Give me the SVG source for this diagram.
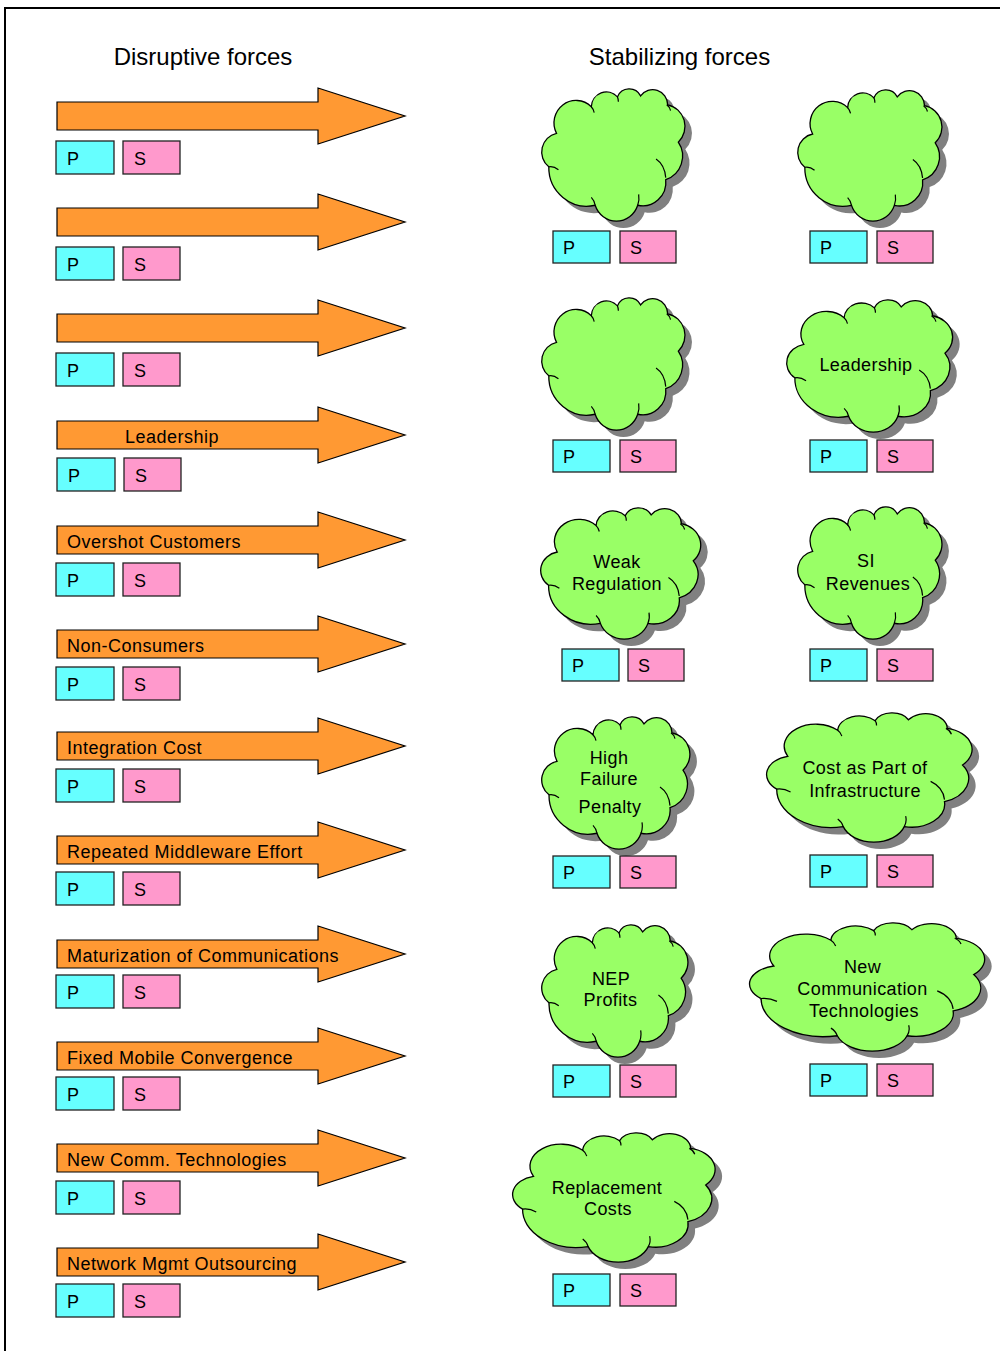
<svg xmlns="http://www.w3.org/2000/svg" xmlns:xlink="http://www.w3.org/1999/xlink" width="1000" height="1351" viewBox="0 0 1000 1351">
  <style>
    .frame { fill: none; stroke: #000; stroke-width: 2; }
    .arrow { fill: #FF9933; stroke: #000; stroke-width: 1.2; stroke-linejoin: miter; }
    .p { fill: #66FFFF; stroke: #222; stroke-width: 1.3; }
    .s { fill: #FF99CC; stroke: #222; stroke-width: 1.3; }
    .cloud { fill: #99FF66; stroke: #000; stroke-width: 1.3; }
    .shadow { fill: #808080; stroke: none; }
    .hint { fill: none; stroke: #000; stroke-width: 1.2; }
    text { font-family: "Liberation Sans", Arial, sans-serif; fill: #000; }
    .title { font-size: 24px; text-anchor: middle; }
    .lbl { font-size: 18px; letter-spacing: 0.5px; }
    .ctr { font-size: 18px; text-anchor: middle; letter-spacing: 0.4px; }
  </style>
  <defs>
    <!-- block arrow, tip at (405,0) -->
    <polygon id="arrow-shape" points="57,-14 318,-14 318,-28 405,0 318,28 318,14 57,14"/>
    <!-- cloud outline drawn in a 150 x 135 box -->
    <path id="cloud-shape" vector-effect="non-scaling-stroke"
          d="M7,79 A19.3,19.3 0 0 1 15,45 A22.8,22.8 0 0 1 51,18 A15.6,15.6 0 0 1 78,8 A13.3,13.3 0 0 1 102,7 A15.5,15.5 0 0 1 130,16 A22.3,22.3 0 0 1 141,54 A25,25 0 0 1 128,92 A24,24 0 0 1 99,118 A23.1,23.1 0 0 1 55,118 A39.5,39.5 0 0 1 7,79 Z"/>
    <!-- inner fold lines of the cloud -->
    <path id="cloud-hints" vector-effect="non-scaling-stroke"
          d="M118,71 Q127,77 128,90 M99,118 Q101,113 100,107 M55,118 Q54,113 51,110 M7,79 Q12,78 17,82 M51,18 Q53,20 54,24 M78,8 Q79,10 79,13 M129,16 Q132,18 133,22"/>
  </defs>

  <rect x="0" y="0" width="1000" height="1351" fill="#fff"/>
  <path class="frame" d="M5,1351 V8 H1000"/>

  <text class="title" x="203" y="65">Disruptive forces</text>
  <text class="title" x="679.5" y="65">Stabilizing forces</text>

  <!-- disruptive forces: arrows with P / S tags -->
  <g id="force-d1">
    <use xlink:href="#arrow-shape" class="arrow" transform="translate(0,116)"/>
    <rect class="p" x="56" y="141" width="58" height="33"/><text class="lbl" x="67" y="164.5">P</text>
    <rect class="s" x="123" y="141" width="57" height="33"/><text class="lbl" x="134" y="164.5">S</text>
  </g>
  <g id="force-d2">
    <use xlink:href="#arrow-shape" class="arrow" transform="translate(0,222)"/>
    <rect class="p" x="56" y="247" width="58" height="33"/><text class="lbl" x="67" y="270.5">P</text>
    <rect class="s" x="123" y="247" width="57" height="33"/><text class="lbl" x="134" y="270.5">S</text>
  </g>
  <g id="force-d3">
    <use xlink:href="#arrow-shape" class="arrow" transform="translate(0,328)"/>
    <rect class="p" x="56" y="353" width="58" height="33"/><text class="lbl" x="67" y="376.5">P</text>
    <rect class="s" x="123" y="353" width="57" height="33"/><text class="lbl" x="134" y="376.5">S</text>
  </g>
  <g id="force-leadership">
    <use xlink:href="#arrow-shape" class="arrow" transform="translate(0,435)"/>
    <text class="lbl" x="125" y="442.5">Leadership</text>
    <rect class="p" x="57" y="458" width="58" height="33"/><text class="lbl" x="68" y="481.5">P</text>
    <rect class="s" x="124" y="458" width="57" height="33"/><text class="lbl" x="135" y="481.5">S</text>
  </g>
  <g id="force-overshot-customers">
    <use xlink:href="#arrow-shape" class="arrow" transform="translate(0,540)"/>
    <text class="lbl" x="67" y="547.5">Overshot Customers</text>
    <rect class="p" x="56" y="563" width="58" height="33"/><text class="lbl" x="67" y="586.5">P</text>
    <rect class="s" x="123" y="563" width="57" height="33"/><text class="lbl" x="134" y="586.5">S</text>
  </g>
  <g id="force-non-consumers">
    <use xlink:href="#arrow-shape" class="arrow" transform="translate(0,644)"/>
    <text class="lbl" x="67" y="651.5">Non-Consumers</text>
    <rect class="p" x="56" y="667" width="58" height="33"/><text class="lbl" x="67" y="690.5">P</text>
    <rect class="s" x="123" y="667" width="57" height="33"/><text class="lbl" x="134" y="690.5">S</text>
  </g>
  <g id="force-integration-cost">
    <use xlink:href="#arrow-shape" class="arrow" transform="translate(0,746)"/>
    <text class="lbl" x="67" y="753.5">Integration Cost</text>
    <rect class="p" x="56" y="769" width="58" height="33"/><text class="lbl" x="67" y="792.5">P</text>
    <rect class="s" x="123" y="769" width="57" height="33"/><text class="lbl" x="134" y="792.5">S</text>
  </g>
  <g id="force-repeated-middleware">
    <use xlink:href="#arrow-shape" class="arrow" transform="translate(0,850)"/>
    <text class="lbl" x="67" y="857.5">Repeated Middleware Effort</text>
    <rect class="p" x="56" y="872" width="58" height="33"/><text class="lbl" x="67" y="895.5">P</text>
    <rect class="s" x="123" y="872" width="57" height="33"/><text class="lbl" x="134" y="895.5">S</text>
  </g>
  <g id="force-maturization">
    <use xlink:href="#arrow-shape" class="arrow" transform="translate(0,954)"/>
    <text class="lbl" x="67" y="961.5">Maturization of Communications</text>
    <rect class="p" x="56" y="975" width="58" height="33"/><text class="lbl" x="67" y="998.5">P</text>
    <rect class="s" x="123" y="975" width="57" height="33"/><text class="lbl" x="134" y="998.5">S</text>
  </g>
  <g id="force-fixed-mobile">
    <use xlink:href="#arrow-shape" class="arrow" transform="translate(0,1056)"/>
    <text class="lbl" x="67" y="1063.5">Fixed Mobile Convergence</text>
    <rect class="p" x="56" y="1077" width="58" height="33"/><text class="lbl" x="67" y="1100.5">P</text>
    <rect class="s" x="123" y="1077" width="57" height="33"/><text class="lbl" x="134" y="1100.5">S</text>
  </g>
  <g id="force-new-comm">
    <use xlink:href="#arrow-shape" class="arrow" transform="translate(0,1158)"/>
    <text class="lbl" x="67" y="1165.5">New Comm. Technologies</text>
    <rect class="p" x="56" y="1181" width="58" height="33"/><text class="lbl" x="67" y="1204.5">P</text>
    <rect class="s" x="123" y="1181" width="57" height="33"/><text class="lbl" x="134" y="1204.5">S</text>
  </g>
  <g id="force-network-mgmt">
    <use xlink:href="#arrow-shape" class="arrow" transform="translate(0,1262)"/>
    <text class="lbl" x="67" y="1269.5">Network Mgmt Outsourcing</text>
    <rect class="p" x="56" y="1284" width="58" height="33"/><text class="lbl" x="67" y="1307.5">P</text>
    <rect class="s" x="123" y="1284" width="57" height="33"/><text class="lbl" x="134" y="1307.5">S</text>
  </g>

  <!-- stabilizing forces: clouds with P / S tags -->
  <g id="cloud-s1">
    <use xlink:href="#cloud-shape" class="shadow" transform="translate(549,96) scale(0.9667,0.9852)"/>
    <use xlink:href="#cloud-shape" class="cloud" transform="translate(542,89) scale(0.9667,0.9852)"/>
    <use xlink:href="#cloud-hints" class="hint" transform="translate(542,89) scale(0.9667,0.9852)"/>
    <rect class="p" x="553" y="231" width="57" height="32"/><text class="lbl" x="563" y="253.5">P</text>
    <rect class="s" x="620" y="231" width="56" height="32"/><text class="lbl" x="630" y="253.5">S</text>
  </g>
  <g id="cloud-s2">
    <use xlink:href="#cloud-shape" class="shadow" transform="translate(805,97) scale(0.9733,0.9778)"/>
    <use xlink:href="#cloud-shape" class="cloud" transform="translate(798,90) scale(0.9733,0.9778)"/>
    <use xlink:href="#cloud-hints" class="hint" transform="translate(798,90) scale(0.9733,0.9778)"/>
    <rect class="p" x="810" y="231" width="57" height="32"/><text class="lbl" x="820" y="253.5">P</text>
    <rect class="s" x="877" y="231" width="56" height="32"/><text class="lbl" x="887" y="253.5">S</text>
  </g>
  <g id="cloud-s3">
    <use xlink:href="#cloud-shape" class="shadow" transform="translate(549,305) scale(0.9667,0.9852)"/>
    <use xlink:href="#cloud-shape" class="cloud" transform="translate(542,298) scale(0.9667,0.9852)"/>
    <use xlink:href="#cloud-hints" class="hint" transform="translate(542,298) scale(0.9667,0.9852)"/>
    <rect class="p" x="553" y="440" width="57" height="32"/><text class="lbl" x="563" y="462.5">P</text>
    <rect class="s" x="620" y="440" width="56" height="32"/><text class="lbl" x="630" y="462.5">S</text>
  </g>
  <g id="cloud-leadership">
    <use xlink:href="#cloud-shape" class="shadow" transform="translate(794,307) scale(1.12,0.9852)"/>
    <use xlink:href="#cloud-shape" class="cloud" transform="translate(787,300) scale(1.12,0.9852)"/>
    <use xlink:href="#cloud-hints" class="hint" transform="translate(787,300) scale(1.12,0.9852)"/>
    <text class="ctr" x="866" y="371">Leadership</text>
    <rect class="p" x="810" y="440" width="57" height="32"/><text class="lbl" x="820" y="462.5">P</text>
    <rect class="s" x="877" y="440" width="56" height="32"/><text class="lbl" x="887" y="462.5">S</text>
  </g>
  <g id="cloud-weak-regulation">
    <use xlink:href="#cloud-shape" class="shadow" transform="translate(548,515) scale(1.08,0.9778)"/>
    <use xlink:href="#cloud-shape" class="cloud" transform="translate(541,508) scale(1.08,0.9778)"/>
    <use xlink:href="#cloud-hints" class="hint" transform="translate(541,508) scale(1.08,0.9778)"/>
    <text class="ctr" x="617" y="568">Weak</text>
    <text class="ctr" x="617" y="590">Regulation</text>
    <rect class="p" x="562" y="649" width="57" height="32"/><text class="lbl" x="572" y="671.5">P</text>
    <rect class="s" x="628" y="649" width="56" height="32"/><text class="lbl" x="638" y="671.5">S</text>
  </g>
  <g id="cloud-si-revenues">
    <use xlink:href="#cloud-shape" class="shadow" transform="translate(805,514) scale(0.9733,0.9852)"/>
    <use xlink:href="#cloud-shape" class="cloud" transform="translate(798,507) scale(0.9733,0.9852)"/>
    <use xlink:href="#cloud-hints" class="hint" transform="translate(798,507) scale(0.9733,0.9852)"/>
    <text class="ctr" x="866" y="567">SI</text>
    <text class="ctr" x="868" y="590">Revenues</text>
    <rect class="p" x="810" y="649" width="57" height="32"/><text class="lbl" x="820" y="671.5">P</text>
    <rect class="s" x="877" y="649" width="56" height="32"/><text class="lbl" x="887" y="671.5">S</text>
  </g>
  <g id="cloud-high-failure">
    <use xlink:href="#cloud-shape" class="shadow" transform="translate(549,724) scale(1.0,0.9852)"/>
    <use xlink:href="#cloud-shape" class="cloud" transform="translate(542,717) scale(1.0,0.9852)"/>
    <use xlink:href="#cloud-hints" class="hint" transform="translate(542,717) scale(1.0,0.9852)"/>
    <text class="ctr" x="609" y="764">High</text>
    <text class="ctr" x="609" y="785">Failure</text>
    <text class="ctr" x="610" y="813">Penalty</text>
    <rect class="p" x="553" y="856" width="57" height="32"/><text class="lbl" x="563" y="878.5">P</text>
    <rect class="s" x="620" y="856" width="56" height="32"/><text class="lbl" x="630" y="878.5">S</text>
  </g>
  <g id="cloud-cost-infrastructure">
    <use xlink:href="#cloud-shape" class="shadow" transform="translate(774,720) scale(1.3867,0.963)"/>
    <use xlink:href="#cloud-shape" class="cloud" transform="translate(767,713) scale(1.3867,0.963)"/>
    <use xlink:href="#cloud-hints" class="hint" transform="translate(767,713) scale(1.3867,0.963)"/>
    <text class="ctr" x="865" y="774">Cost as Part of</text>
    <text class="ctr" x="865" y="797">Infrastructure</text>
    <rect class="p" x="810" y="855" width="57" height="32"/><text class="lbl" x="820" y="877.5">P</text>
    <rect class="s" x="877" y="855" width="56" height="32"/><text class="lbl" x="887" y="877.5">S</text>
  </g>
  <g id="cloud-nep-profits">
    <use xlink:href="#cloud-shape" class="shadow" transform="translate(549,932) scale(0.9867,0.9852)"/>
    <use xlink:href="#cloud-shape" class="cloud" transform="translate(542,925) scale(0.9867,0.9852)"/>
    <use xlink:href="#cloud-hints" class="hint" transform="translate(542,925) scale(0.9867,0.9852)"/>
    <text class="ctr" x="611" y="985">NEP</text>
    <text class="ctr" x="610.5" y="1006">Profits</text>
    <rect class="p" x="553" y="1065" width="57" height="32"/><text class="lbl" x="563" y="1087.5">P</text>
    <rect class="s" x="620" y="1065" width="56" height="32"/><text class="lbl" x="630" y="1087.5">S</text>
  </g>
  <g id="cloud-new-communication">
    <use xlink:href="#cloud-shape" class="shadow" transform="translate(757,930) scale(1.5867,0.9556)"/>
    <use xlink:href="#cloud-shape" class="cloud" transform="translate(750,923) scale(1.5867,0.9556)"/>
    <use xlink:href="#cloud-hints" class="hint" transform="translate(750,923) scale(1.5867,0.9556)"/>
    <text class="ctr" x="862.5" y="973">New</text>
    <text class="ctr" x="862.5" y="995">Communication</text>
    <text class="ctr" x="864" y="1017">Technologies</text>
    <rect class="p" x="810" y="1064" width="57" height="32"/><text class="lbl" x="820" y="1086.5">P</text>
    <rect class="s" x="877" y="1064" width="56" height="32"/><text class="lbl" x="887" y="1086.5">S</text>
  </g>
  <g id="cloud-replacement-costs">
    <use xlink:href="#cloud-shape" class="shadow" transform="translate(520,1140) scale(1.3667,0.963)"/>
    <use xlink:href="#cloud-shape" class="cloud" transform="translate(513,1133) scale(1.3667,0.963)"/>
    <use xlink:href="#cloud-hints" class="hint" transform="translate(513,1133) scale(1.3667,0.963)"/>
    <text class="ctr" x="607" y="1194">Replacement</text>
    <text class="ctr" x="608" y="1215">Costs</text>
    <rect class="p" x="553" y="1274" width="57" height="32"/><text class="lbl" x="563" y="1296.5">P</text>
    <rect class="s" x="620" y="1274" width="56" height="32"/><text class="lbl" x="630" y="1296.5">S</text>
  </g>
</svg>
